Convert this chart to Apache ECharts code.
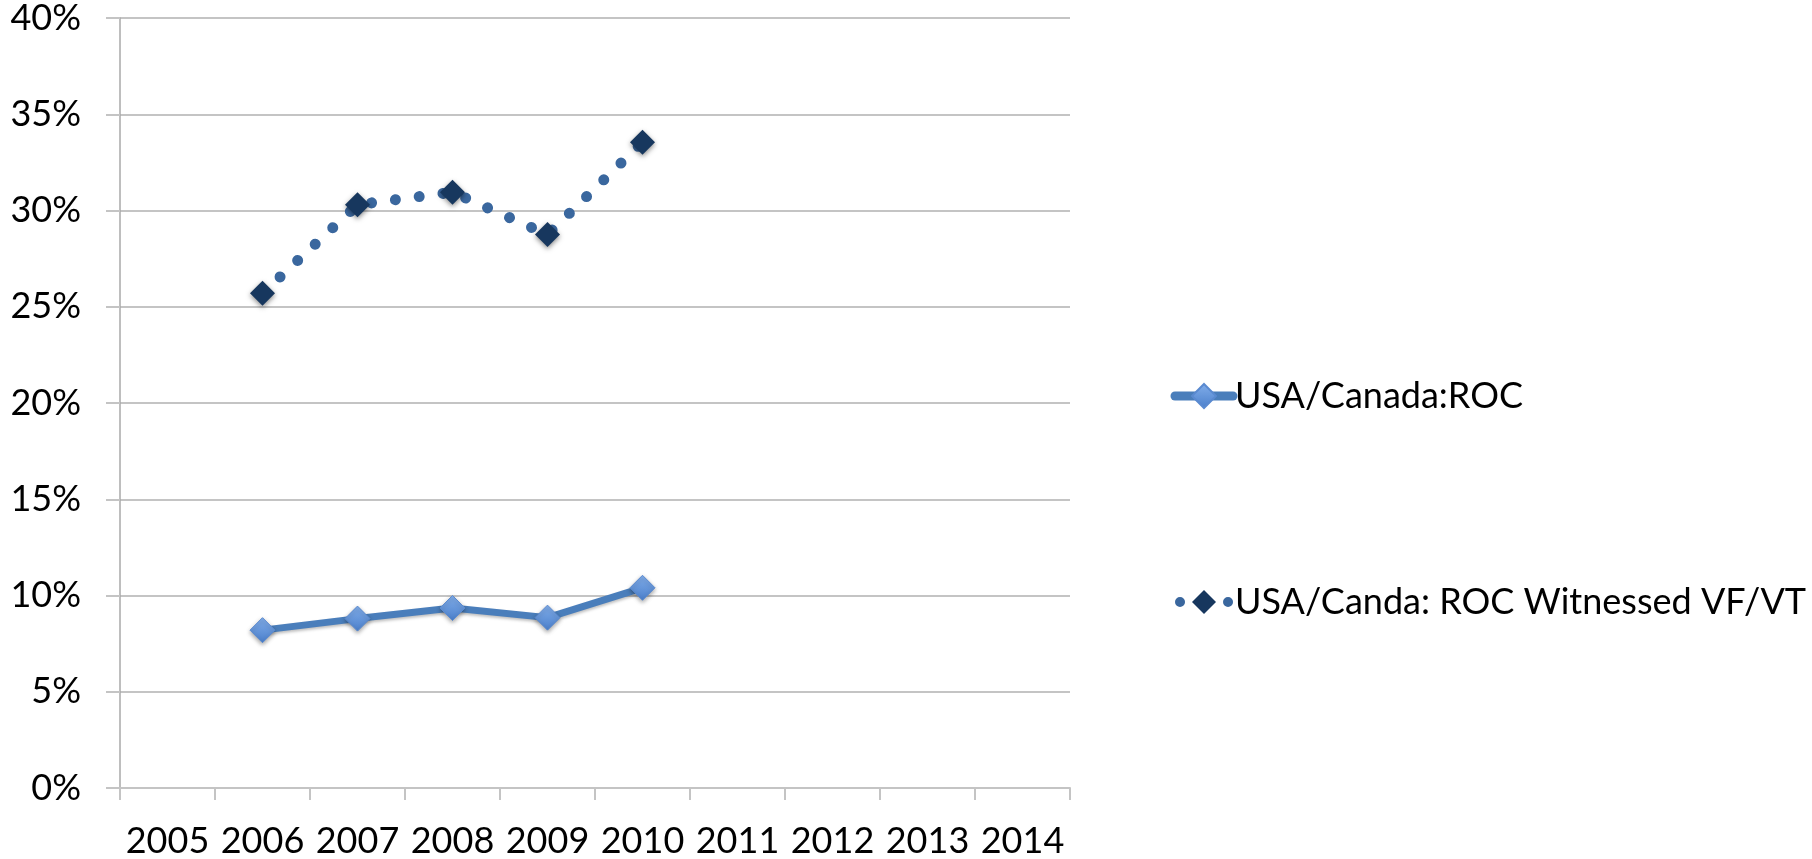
<!DOCTYPE html>
<html>
<head>
<meta charset="utf-8">
<title>USA/Canada ROC</title>
<script src="https://cdn.jsdelivr.net/npm/echarts@6/dist/echarts.min.js"></script>
<style>
  html, body { margin: 0; padding: 0; background: #ffffff; }
  #chart { width: 1812px; height: 859px; }
</style>
</head>
<body>
<div id="chart"></div>
<script>
// Years on the category axis
const years = ['2005', '2006', '2007', '2008', '2009', '2010', '2011', '2012', '2013', '2014'];

// Percent values per year (null where no data)
const rocAll = [null, 8.2, 8.8, 9.35, 8.85, 10.4, null, null, null, null];
const rocWitnessed = [null, 25.7, 30.3, 30.95, 28.75, 33.55, null, null, null, null];

const seriesNames = ['USA/Canada:ROC', 'USA/Canda: ROC Witnessed VF/VT'];

const FONT = 'Lato, "Open Sans", sans-serif';
const GRID_GRAY = '#c4c4c4';

const solidLine = { color: '#4a7ebb', width: 7 };
const dottedLine = { color: '#3a679e', width: 11, type: [0.01, 24], cap: 'round' };

const chart = echarts.init(document.getElementById('chart'), null, { renderer: 'canvas' });

chart.setOption({
  animation: false,
  backgroundColor: '#ffffff',
  grid: { left: 120, right: 742, top: 16, bottom: 71, containLabel: false },
  legend: {
    orient: 'vertical',
    left: 1165,
    top: 371,
    itemGap: 166,
    itemWidth: 58,
    itemHeight: 30,
    textStyle: { fontFamily: FONT, fontSize: 36, color: '#000000', lineHeight: 40, padding: [0, 0, 0, -3] },
    data: [
      { name: seriesNames[0], lineStyle: { width: 9, color: '#4a7ebb', cap: 'round' } },
      { name: seriesNames[1], lineStyle: { width: 10, color: '#3a679e', type: [0.01, 48], dashOffset: 43, cap: 'round' } }
    ]
  },
  xAxis: {
    type: 'category',
    data: years,
    boundaryGap: true,
    axisLine: { show: true, lineStyle: { color: GRID_GRAY, width: 2 } },
    axisTick: { show: true, length: 12, interval: 0, lineStyle: { color: GRID_GRAY, width: 2 } },
    axisLabel: { interval: 0, margin: 35, fontFamily: FONT, fontSize: 36, color: '#000000' },
    splitLine: { show: false }
  },
  yAxis: {
    type: 'value',
    min: 0,
    max: 40,
    interval: 5,
    axisLine: { show: true, lineStyle: { color: '#a8a8a8', width: 1.5 } },
    axisTick: { show: true, length: 14, lineStyle: { color: GRID_GRAY, width: 2 } },
    axisLabel: { margin: 39, fontFamily: FONT, fontSize: 36, color: '#000000', formatter: '{value}%' },
    splitLine: { show: true, lineStyle: { color: GRID_GRAY, width: 2 } }
  },
  series: [
    {
      name: seriesNames[0],
      type: 'line',
      data: rocAll,
      connectNulls: false,
      symbol: 'diamond',
      symbolSize: 25,
      lineStyle: Object.assign({ shadowColor: 'rgba(0,0,0,0.25)', shadowBlur: 3, shadowOffsetY: 2 }, solidLine),
      itemStyle: {
        color: new echarts.graphic.LinearGradient(0, 0, 0, 1, [
          { offset: 0, color: '#82aeea' },
          { offset: 1, color: '#4a7fcb' }
        ]),
        borderColor: '#5a8ad0',
        borderWidth: 1,
        shadowColor: 'rgba(0,0,0,0.35)',
        shadowBlur: 4,
        shadowOffsetY: 2
      },
      z: 3
    },
    {
      name: seriesNames[1],
      type: 'line',
      data: rocWitnessed,
      connectNulls: false,
      symbol: 'diamond',
      symbolSize: 25,
      lineStyle: dottedLine,
      itemStyle: {
        color: '#17375e',
        shadowColor: 'rgba(0,0,0,0.45)',
        shadowBlur: 5,
        shadowOffsetY: 2
      },
      z: 3
    }
  ]
});
</script>
</body>
</html>
